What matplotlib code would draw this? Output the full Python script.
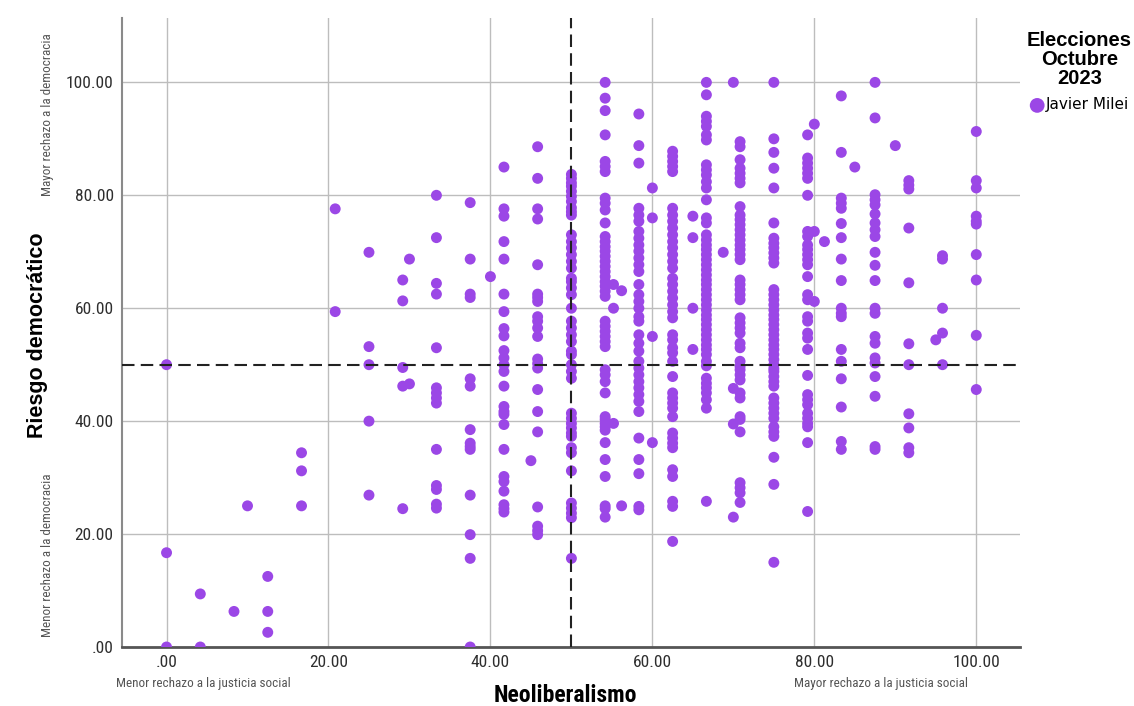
#!/usr/bin/env python3

"""
Scatter of democratic-risk score against neoliberalism score for Javier Milei voters,
with the 50/50 split marked by dashed reference lines.
"""

import matplotlib.pyplot as plt
from matplotlib import font_manager
from matplotlib.ticker import FuncFormatter

# Neoliberalism score levels (x) and the democratic-risk scores (y) observed at each level.
neolib_levels = [
    0.0, 4.17, 8.33, 10.0, 12.5, 16.67, 20.83, 25.0, 29.17, 30.0,
    33.33, 37.5, 40.0, 41.67, 45.0, 45.83, 50.0, 54.17, 55.2, 56.2,
    58.33, 60.0, 62.5, 65.0, 66.67, 68.75, 70.0, 70.83, 75.0, 79.17,
    80.0, 81.25, 83.33, 85.0, 87.5, 90.0, 91.67, 95.0, 95.83, 100.0,
]
riesgo_by_level = [
    [50.0, 16.7, 0.0],
    [9.4, 0.0],
    [6.3],
    [25.0],
    [12.5, 6.3, 2.6],
    [34.4, 31.2, 25.0],
    [77.6, 59.4],
    [69.9, 53.2, 50.0, 40.0, 26.9],
    [65.0, 61.3, 49.5, 46.2, 24.5],
    [68.7, 46.6],
    [80.0, 72.5, 64.4, 62.5, 53.0, 45.9, 45.0, 44.1, 43.2, 35.0, 28.6, 27.9, 25.3, 24.6],
    [78.7, 68.7, 62.5, 61.9, 47.5, 46.2, 38.5, 36.1, 35.5, 35.0, 26.9, 19.9, 15.7, 0.0],
    [65.6],
    [85.0, 77.6, 76.3, 71.8, 68.7, 62.5, 59.4, 56.4, 55.1, 52.5, 51.2, 50.0, 48.8, 46.2,
     42.6, 41.7, 41.2, 39.4, 35.0, 30.2, 29.3, 27.6, 25.2, 24.5, 23.9],
    [33.0],
    [88.6, 83.0, 77.6, 75.8, 67.7, 62.5, 61.9, 61.2, 58.5, 57.7, 56.5, 55.0, 51.0, 50.2,
     49.4, 45.6, 41.7, 38.1, 24.8, 21.4, 20.6, 19.9],
    [83.7, 83.0, 82.2, 81.6, 80.7, 79.8, 78.9, 77.8, 77.1, 76.5, 73.0, 71.8, 70.7, 69.5,
     68.3, 67.1, 65.3, 64.7, 63.6, 62.4, 60.0, 57.7, 56.5, 55.3, 54.1, 52.4, 51.8, 50.0,
     48.8, 47.6, 41.4, 40.5, 39.6, 38.8, 37.9, 37.3, 35.3, 34.4, 31.2, 25.5, 24.6, 23.7,
     22.9, 15.7],
    [100.0, 97.2, 95.0, 90.7, 86.0, 85.1, 84.2, 79.5, 78.6, 77.4, 75.1, 72.7, 71.8, 70.9,
     70.1, 69.2, 68.3, 67.4, 66.5, 65.6, 64.7, 63.9, 63.0, 62.1, 57.7, 56.8, 55.9, 55.0,
     54.1, 53.2, 49.1, 48.2, 47.0, 45.0, 40.8, 40.3, 39.6, 39.0, 38.4, 36.2, 33.2, 30.2,
     25.0, 24.5, 23.0],
    [64.2, 60.0, 39.6],
    [63.1, 25.0],
    [94.4, 88.8, 85.7, 77.7, 76.5, 75.4, 73.6, 72.4, 71.2, 70.1, 68.9, 67.7, 66.5, 64.2,
     62.4, 61.2, 60.0, 58.5, 57.7, 55.3, 53.8, 52.4, 50.6, 49.4, 48.2, 47.0, 45.9, 44.7,
     43.5, 41.7, 37.0, 33.2, 30.7, 24.9, 24.3],
    [81.3, 76.0, 55.0, 36.2],
    [87.8, 86.9, 86.0, 85.1, 84.2, 77.7, 76.5, 75.4, 74.2, 73.0, 71.8, 70.7, 69.5, 68.3,
     67.1, 65.3, 64.2, 63.0, 61.8, 60.6, 59.4, 58.3, 55.3, 54.4, 53.0, 52.1, 50.6, 47.9,
     45.0, 44.1, 43.2, 42.3, 40.8, 37.9, 37.0, 36.1, 35.3, 31.4, 30.2, 25.8, 24.9, 18.7],
    [76.3, 72.5, 60.0, 52.7],
    [100.0, 97.8, 94.0, 93.1, 92.2, 90.7, 89.8, 85.4, 84.5, 83.6, 82.4, 81.3, 79.2, 76.0,
     75.1, 73.0, 72.1, 71.2, 70.4, 69.5, 68.6, 67.7, 66.8, 65.9, 65.0, 64.2, 63.3, 62.4,
     61.5, 60.6, 59.7, 58.8, 58.0, 57.1, 56.2, 55.3, 54.4, 53.5, 52.7, 51.8, 50.6, 49.8,
     47.6, 46.7, 45.9, 45.0, 43.8, 42.3, 25.8],
    [69.9],
    [100.0, 45.8, 39.5, 23.0],
    [89.5, 88.6, 86.3, 84.8, 83.9, 83.0, 82.2, 78.0, 76.5, 75.7, 74.8, 73.9, 73.0, 72.1,
     71.2, 70.4, 69.5, 68.6, 65.0, 64.2, 63.3, 62.4, 61.5, 58.3, 57.4, 56.5, 55.6, 53.8,
     53.0, 50.6, 49.7, 49.1, 48.2, 47.3, 45.0, 44.1, 40.8, 40.3, 38.1, 29.1, 28.2, 27.3,
     25.6],
    [100.0, 90.0, 87.6, 84.8, 81.3, 75.1, 72.4, 71.5, 70.7, 69.8, 68.9, 68.0, 63.3, 62.4,
     61.5, 60.6, 59.7, 58.8, 58.0, 57.1, 56.2, 55.3, 54.4, 53.5, 52.7, 51.8, 50.9, 50.0,
     49.3, 48.8, 47.9, 47.0, 46.2, 44.1, 43.2, 42.3, 41.4, 40.5, 39.0, 38.1, 37.3, 33.6,
     28.8, 15.0],
    [90.7, 86.6, 85.7, 84.8, 83.9, 83.0, 80.0, 73.6, 72.7, 71.2, 70.4, 69.5, 68.6, 67.7,
     65.6, 62.4, 61.5, 58.5, 57.7, 55.6, 54.7, 52.7, 48.1, 44.7, 43.8, 42.9, 41.4, 40.5,
     39.6, 39.0, 36.2, 24.0],
    [92.6, 73.6, 61.2],
    [71.8],
    [97.6, 87.6, 79.5, 78.6, 77.7, 75.0, 72.5, 68.7, 64.9, 60.0, 59.1, 58.5, 52.7, 50.6,
     47.5, 42.5, 36.4, 35.0],
    [85.0],
    [100.0, 93.7, 80.1, 79.2, 78.3, 76.7, 75.1, 73.9, 72.7, 69.9, 67.6, 64.9, 60.0, 59.1,
     55.0, 53.8, 51.2, 50.3, 47.9, 44.4, 35.5, 35.0],
    [88.8],
    [82.6, 81.8, 81.1, 74.2, 64.5, 53.7, 50.0, 41.3, 38.8, 35.3, 34.4],
    [54.4],
    [69.3, 68.7, 60.0, 55.6, 50.0],
    [91.3, 82.6, 81.3, 76.3, 75.4, 74.9, 69.5, 65.0, 55.2, 45.6],
]

tick_values = [0, 20, 40, 60, 80, 100]
split_value = 50
series_label = "Javier Milei"
legend_title = "Elecciones\nOctubre\n2023"

PURPLE = "#9b47e6"
W, H = 1134, 706


def narrow_font(size, weight="normal"):
    """A condensed sans if one is installed, otherwise plain Liberation Sans."""
    names = {f.name for f in font_manager.fontManager.ttflist}
    for name in ("Liberation Sans Narrow", "Arial Narrow", "Roboto Condensed"):
        if name in names:
            return font_manager.FontProperties(family=name, size=size, weight=weight)
    condensed = [f for f in font_manager.fontManager.ttflist
                 if f.name == "DejaVu Sans" and "ondensed" in f.fname
                 and (f.weight == "bold") == (weight == "bold")]
    if condensed:
        return font_manager.FontProperties(fname=condensed[0].fname, size=size)
    return font_manager.FontProperties(family="Liberation Sans", size=size * 0.93, weight=weight)


def fmt_tick(v, _pos=None) -> str:
    # SPSS-style labels: two decimals, no leading zero for zero
    s = f"{v:.2f}"
    return s[1:] if s.startswith("0") else s


def main() -> None:
    xs = [x for x, ys in zip(neolib_levels, riesgo_by_level) for _ in ys]
    ys = [y for col in riesgo_by_level for y in col]

    fig = plt.figure(figsize=(W / 100, H / 100), dpi=100)
    ax = fig.add_axes([122 / W, 1 - 647 / H, (1020 - 122) / W, (647 - 18) / H])

    ax.scatter(xs, ys, s=62, color=PURPLE, edgecolors="none", zorder=3, label=series_label)
    ax.axvline(split_value, color="#222222", lw=1.5, dashes=(6, 3), zorder=4)
    ax.axhline(split_value, color="#222222", lw=1.5, dashes=(6, 3), zorder=4)

    ax.set_xlim(-5.5, 105.4)
    ax.set_ylim(0, 111.4)
    ax.set_xticks(tick_values)
    ax.set_yticks(tick_values)
    ax.xaxis.set_major_formatter(FuncFormatter(fmt_tick))
    ax.yaxis.set_major_formatter(FuncFormatter(fmt_tick))
    ax.tick_params(length=0, pad=6, labelcolor="#2e2e2e")
    tick_font = narrow_font(12.5)
    for lbl in ax.get_xticklabels() + ax.get_yticklabels():
        lbl.set_fontproperties(tick_font)
    ax.grid(True, color="#bdbdbd", lw=1.0, zorder=0)
    ax.set_axisbelow(True)

    for side in ("top", "right"):
        ax.spines[side].set_visible(False)
    ax.spines["left"].set_color("#8a8a8a")
    ax.spines["left"].set_linewidth(1.5)
    ax.spines["bottom"].set_color("#555555")
    ax.spines["bottom"].set_linewidth(2.0)

    # Axis titles and the pole descriptions
    fig.text(565 / W, 1 - 695 / H, "Neoliberalismo", ha="center", va="center",
             fontproperties=narrow_font(17, "bold"))
    fig.text(38 / W, 1 - 335 / H, "Riesgo democrático", ha="center", va="center",
             rotation=90, fontsize=15.5, fontweight="bold", family="Liberation Sans")
    pole_font = narrow_font(9.5)
    pole_style = dict(fontproperties=pole_font, color="#555555", va="center")
    fig.text(203 / W, 1 - 683 / H, "Menor rechazo a la justicia social", ha="center", **pole_style)
    fig.text(881 / W, 1 - 683 / H, "Mayor rechazo a la justicia social", ha="center", **pole_style)
    fig.text(48 / W, 1 - 115 / H, "Mayor rechazo a la democracia", ha="center",
             rotation=90, **pole_style)
    fig.text(48 / W, 1 - 555 / H, "Menor rechazo a la democracia", ha="center",
             rotation=90, **pole_style)

    leg = ax.legend(
        title=legend_title,
        loc="upper left",
        bbox_to_anchor=(1016 / W, 1 - 20 / H),
        bbox_transform=fig.transFigure,
        frameon=False,
        handletextpad=0.05,
        handlelength=1.0,
        borderpad=0.2,
        fontsize=11,
        markerscale=1.35,
        title_fontproperties={"weight": "bold", "size": 14.5, "family": "Liberation Sans"},
    )
    leg._legend_box.align = "center"
    leg._legend_box.sep = 7
    leg.get_title().set_multialignment("center")
    leg.get_title().set_linespacing(1.0)

    fig.savefig("out.png", dpi=100)
    plt.close(fig)


if __name__ == "__main__":
    main()
